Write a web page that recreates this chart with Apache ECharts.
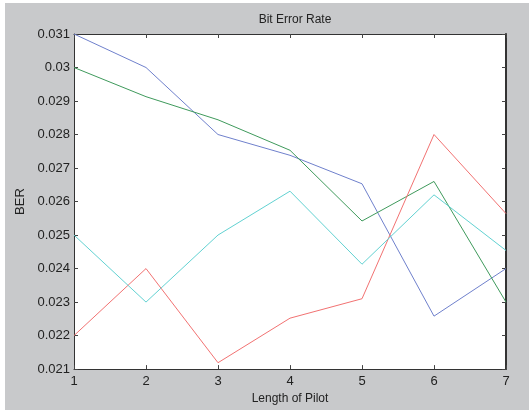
<!DOCTYPE html>
<html>
<head>
<meta charset="utf-8">
<script src="https://cdn.jsdelivr.net/npm/echarts@6/dist/echarts.min.js"></script>
<style>
  html, body { margin: 0; padding: 0; background: #fff; }
  #main { position: absolute; left: 5px; top: 3px; width: 524px; height: 407px; background: #c8c9cb; }
</style>
</head>
<body>
<div id="main"></div>
<script>
// pilot lengths
const pilot = [1, 2, 3, 4, 5, 6, 7]
// BER values per run
const berBlue = [0.0310, 0.0300, 0.0280, 0.02738, 0.02653, 0.02258, 0.0240]
const berGreen = [0.0300, 0.02913, 0.02844, 0.02753, 0.02542, 0.0266, 0.0230]
const berRed = [0.0220, 0.0240, 0.02119, 0.02252, 0.0231, 0.0280, 0.02564]
const berCyan = [0.0250, 0.0230, 0.0250, 0.02631, 0.02413, 0.0262, 0.02454]

const colors = ['#6f80cc', '#3f9a5c', '#f27272', '#62d2d2']

const chart = echarts.init(document.getElementById('main'))

const mk = (arr) => pilot.map((x, i) => [x, arr[i]])
const fmt = v => String(parseFloat(v.toFixed(3)))
const textStyle = { color: '#222', fontFamily: 'Liberation Sans, Arial, sans-serif', fontSize: 13 }

const xBase = {
  type: 'value', min: 1, max: 7, interval: 1,
  axisLine: { lineStyle: { color: '#333', width: 1 } },
  axisTick: { inside: true, length: 4, lineStyle: { color: '#444' } },
  splitLine: { show: false }
}
const yBase = {
  type: 'value', min: 0.021, max: 0.031, interval: 0.001,
  axisLine: { lineStyle: { color: '#333', width: 1 } },
  axisTick: { inside: true, length: 4, lineStyle: { color: '#444' } },
  splitLine: { show: false }
}

chart.setOption({
  animation: false,
  backgroundColor: 'transparent',
  title: {
    text: 'Bit Error Rate',
    left: 285, top: 6, textAlign: 'center',
    textStyle: { color: '#222', fontFamily: 'Liberation Sans, Arial, sans-serif', fontSize: 12, fontWeight: 'normal' }
  },
  grid: { left: 69, right: 23, top: 31, bottom: 38, backgroundColor: '#fff', show: true, borderWidth: 0 },
  xAxis: [
    Object.assign({}, xBase, {
      position: 'bottom',
      name: 'Length of Pilot', nameLocation: 'middle', nameGap: 22,
      nameTextStyle: Object.assign({}, textStyle, { fontSize: 12 }),
      axisLabel: Object.assign({}, textStyle, { margin: 6 })
    }),
    Object.assign({}, xBase, { position: 'top', axisLabel: { show: false } })
  ],
  yAxis: [
    Object.assign({}, yBase, {
      position: 'left',
      name: 'BER', nameLocation: 'middle', nameGap: 46, nameRotate: 90,
      nameTextStyle: Object.assign({}, textStyle, { fontSize: 13 }),
      axisLabel: Object.assign({}, textStyle, { margin: 4, formatter: fmt })
    }),
    Object.assign({}, yBase, {
      position: 'right',
      axisLine: { lineStyle: { color: '#333', width: 2 } },
      axisLabel: { show: false }
    })
  ],
  series: [berBlue, berGreen, berRed, berCyan].map((arr, i) => ({
    type: 'line',
    data: mk(arr),
    showSymbol: false,
    lineStyle: { color: colors[i], width: 1 },
    z: 2 + i
  }))
})
</script>
</body>
</html>
